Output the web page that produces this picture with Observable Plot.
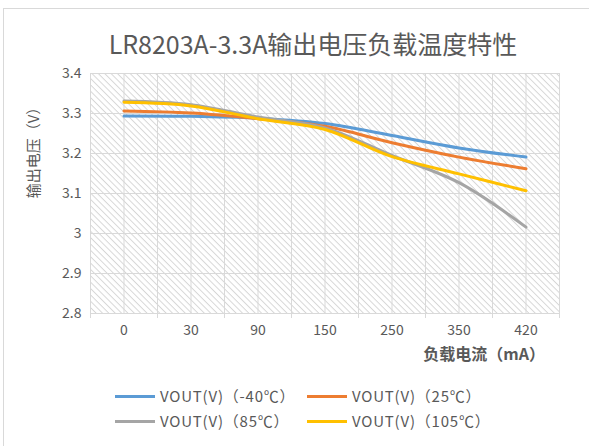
<!DOCTYPE html>
<html>
<head>
<meta charset="utf-8">
<script src="https://cdn.jsdelivr.net/npm/d3@7"></script>
<script src="https://cdn.jsdelivr.net/npm/@observablehq/plot@0.6"></script>
<style>
  html, body { margin: 0; padding: 0; background: #fff; }
  #wrap { position: relative; width: 589px; height: 446px; overflow: hidden;
    font-family: "Noto Sans CJK SC", "Noto Sans", sans-serif; color: #595959; }
  #wrap svg { position: absolute; left: 0; top: 0; }
  .abs { position: absolute; white-space: nowrap; }
  #border { position: absolute; left: 3px; top: 8px; width: 600px; height: 460px; border: 1px solid #d9d9d9; box-sizing: border-box; }
  #title { left: 0; width: 626px; top: 26px; text-align: center; font-size: 25px; line-height: 34px; }
  #ylab { left: 32px; top: 149px; font-size: 15px; transform: translate(-50%, -50%) rotate(-90deg); }
  #xlab { right: 44px; top: 342px; font-size: 16px; line-height: 22px; font-weight: bold; }
  .leg { font-size: 15px; line-height: 20px; display: flex; align-items: center; letter-spacing: 0.8px; }
  .leg span.sw { display: inline-block; width: 40px; height: 3px; margin-right: 5px; }
</style>
</head>
<body>
<div id="wrap">
  <div id="border"></div>
</div>
<script>
const categories = ["0", "30", "90", "150", "250", "350", "420"];
const seriesNames = ["VOUT(V)（-40℃）", "VOUT(V)（25℃）", "VOUT(V)（85℃）", "VOUT(V)（105℃）"];
const seriesColors = ["#5B9BD5", "#ED7D31", "#A5A5A5", "#FFC000"];
const vMinus40 = [3.294, 3.293, 3.288, 3.275, 3.245, 3.214, 3.191];
const v25 = [3.306, 3.301, 3.287, 3.268, 3.227, 3.191, 3.162];
const v85 = [3.331, 3.322, 3.291, 3.264, 3.195, 3.127, 3.016];
const v105 = [3.328, 3.319, 3.287, 3.260, 3.192, 3.149, 3.107];
const yTicks = [2.8, 2.9, 3.0, 3.1, 3.2, 3.3, 3.4];
const yTickLabels = ["2.8", "2.9", "3", "3.1", "3.2", "3.3", "3.4"];
const titleText = "LR8203A-3.3A输出电压负载温度特性";
const yTitle = "输出电压（V）";
const xTitle = "负载电流（mA）";

const seriesValues = [vMinus40, v25, v85, v105];
const idx = categories.map((_, i) => i);
const bounds = d3.range(-0.5, categories.length, 1);
const halfGrid = d3.range(-0.5, categories.length, 0.5);
const rows = [];
seriesValues.forEach((vals, s) => vals.forEach((v, i) => rows.push({s, i, v})));

const svg = Plot.plot({
  width: 589, height: 446,
  marginTop: 73, marginBottom: 133, marginLeft: 90, marginRight: 30,
  style: {fontFamily: '"Noto Sans CJK SC", "Noto Sans", sans-serif', background: "transparent"},
  x: {domain: [-0.5, categories.length - 0.5], axis: null},
  y: {domain: [2.8, 3.4], axis: null},
  marks: [
    Plot.frame({fill: "url(#hatch)", stroke: null}),
    Plot.gridY(yTicks, {stroke: "#d9d9d9", strokeOpacity: 1, strokeWidth: 1}),
    Plot.gridX(halfGrid, {stroke: "#d9d9d9", strokeOpacity: 1, strokeWidth: 1}),
    Plot.axisY(yTicks, {label: null, tickSize: 0, tickPadding: 9, tickFormat: d => yTickLabels[yTicks.indexOf(d)], fontSize: 14, fill: "#595959"}),
    Plot.axisX(idx, {label: null, tickSize: 0, tickPadding: 12, tickFormat: i => categories[i], fontSize: 14, fill: "#595959"}),
    Plot.axisX(bounds, {label: null, tickSize: 5, tickFormat: () => "", stroke: "#d9d9d9", strokeOpacity: 1}),
    ...seriesValues.map((vals, s) =>
      Plot.lineY(rows.filter(r => r.s === s), {x: "i", y: "v", stroke: seriesColors[s], strokeWidth: 3, curve: "catmull-rom"})
    )
  ]
});

const defs = document.createElementNS("http://www.w3.org/2000/svg", "defs");
defs.innerHTML = `<pattern id="hatch" patternUnits="userSpaceOnUse" width="4.5" height="4.5" patternTransform="rotate(45)">
  <rect width="4.5" height="4.5" fill="#ffffff"/>
  <line x1="0" y1="0.5" x2="4.5" y2="0.5" stroke="#d4d4d4" stroke-width="0.9"/>
</pattern>`;
svg.insertBefore(defs, svg.firstChild);

const wrap = document.getElementById("wrap");
wrap.appendChild(svg);

function addDiv(id, cls, text, style) {
  const d = document.createElement("div");
  if (id) d.id = id;
  d.className = cls;
  if (text != null) d.textContent = text;
  if (style) Object.assign(d.style, style);
  wrap.appendChild(d);
  return d;
}
addDiv("title", "abs", titleText);
addDiv("ylab", "abs", yTitle);
addDiv("xlab", "abs", xTitle);

const legPos = [[115, 386], [307, 386], [115, 411], [307, 411]];
seriesNames.forEach((name, s) => {
  const d = addDiv(null, "abs leg", null, {left: legPos[s][0] + "px", top: legPos[s][1] + "px"});
  const sw = document.createElement("span");
  sw.className = "sw";
  sw.style.background = seriesColors[s];
  d.appendChild(sw);
  const t = document.createElement("span");
  t.textContent = name;
  d.appendChild(t);
});
</script>
</body>
</html>
